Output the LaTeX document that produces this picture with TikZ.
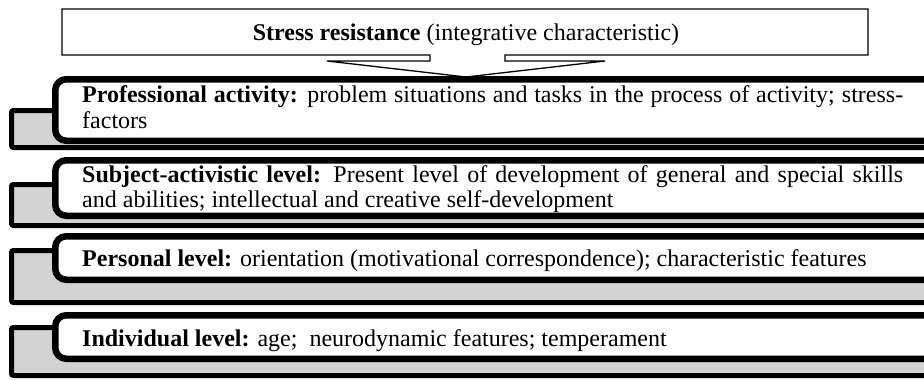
\documentclass[tikz,border=0pt]{standalone}
\usepackage{fontspec}
\setmainfont{Liberation Serif}
\usetikzlibrary{shadows}
\definecolor{tabgrey}{RGB}{211,211,211}
\tikzset{
  tabbox/.style={draw=black, line width=5pt, fill=tabgrey, rounded corners=2pt},
  levelbox/.style={draw=black, line width=6.5pt, fill=white, rounded corners=11pt,
    drop shadow={shadow xshift=0pt, shadow yshift=-3pt, opacity=0.35, fill=black}},
  calloutshape/.style={draw=black, line width=1.3pt, fill=white, line join=miter},
  leveltext/.style={anchor=north west, inner sep=0pt, text width=821pt, align=justify,
    font=\fontsize{24pt}{25.5pt}\selectfont},
  toptext/.style={anchor=base, inner sep=0pt, font=\fontsize{24pt}{25.5pt}\selectfont},
}
\begin{document}
\begin{tikzpicture}[x=1pt,y=-1pt]
\useasboundingbox (0,0) rectangle (924,380);
\clip (0,0) rectangle (924,380);
% top callout box
\draw[calloutshape] (62,9) -- (868,9) -- (868,55) -- (505,55) -- (505,61) -- (605,61)
  -- (466,77) -- (327,61) -- (430,61) -- (430,55) -- (62,55) -- cycle;
\node[toptext] (top) at (466,40) {\textbf{Stress resistance} (integrative characteristic)};
% level 1
\draw[tabbox] (11.5,110.5) rectangle (960,147.5);
\draw[levelbox] (55.25,79.25) rectangle (980,140.75);
\node[leveltext] (l1) at (82,84.5) {\strut\textbf{Professional activity:} problem situations and tasks in the process of activity; stress-\linebreak factors};
% level 2
\draw[tabbox] (11.5,184.5) rectangle (960,225.5);
\draw[levelbox] (55.25,160.25) rectangle (980,215.75);
\node[leveltext] (l2) at (82,164) {\strut\textbf{Subject-activistic level:} Present level of development of general and special skills\linebreak and abilities; intellectual and creative self-development};
% level 3
\draw[tabbox] (11.5,250.5) rectangle (960,302.5);
\draw[levelbox] (55.25,236.25) rectangle (980,279.75);
\node[leveltext] (l3) at (82,248) {\strut\textbf{Personal level:} orientation (motivational correspondence); characteristic features};
% level 4
\draw[tabbox] (11.5,327.5) rectangle (960,375.5);
\draw[levelbox] (55.25,315.25) rectangle (980,358.75);
\node[leveltext] (l4) at (82,328) {\strut\textbf{Individual level:} age;~ neurodynamic features; temperament};
\end{tikzpicture}
\end{document}
